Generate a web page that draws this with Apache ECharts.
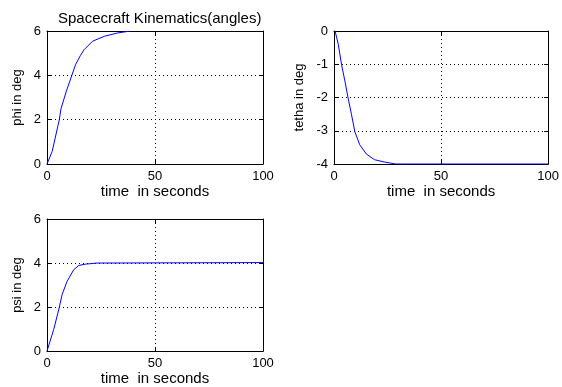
<!DOCTYPE html>
<html>
<head>
<meta charset="utf-8">
<script src="https://cdn.jsdelivr.net/npm/echarts@6/dist/echarts.min.js"></script>
<style>
html,body{margin:0;padding:0;background:#fff;}
#c{width:562px;height:387px;}
</style>
</head>
<body>
<div id="c"></div>
<script>
// ---- data ----
var titleText = 'Spacecraft Kinematics(angles)';
var xName = 'time  in seconds';
var yNames = ['phi in deg', 'tetha in deg', 'psi in deg'];

var phiT = [0, 2.4, 5.7, 6.5, 9, 11.5, 13.3, 15.5, 17.2, 21.1, 26.5, 32.6, 38];
var phiV = [0, 0.57, 2.0, 2.5, 3.3, 4.0, 4.5, 4.9, 5.16, 5.54, 5.76, 5.91, 5.99];

var tethaT = [0.5, 2, 3.5, 5.1, 6.6, 8.2, 9.7, 12, 15.1, 18.9, 23.5, 28.9, 100];
var tethaV = [0, -0.4, -1.0, -1.51, -2.02, -2.52, -3.02, -3.42, -3.70, -3.87, -3.94, -4.0, -4.0];

var psiT = [0, 3.1, 5.6, 7.0, 9.3, 12.4, 14.7, 17.8, 23.2, 100];
var psiV = [0, 0.98, 1.95, 2.57, 3.17, 3.70, 3.89, 3.95, 4.0, 4.02];

var xTicks = {min: 0, max: 100, interval: 50};
var yTicks = [
  {min: 0, max: 6, interval: 2},
  {min: -4, max: 0, interval: 1},
  {min: 0, max: 6, interval: 2}
];

// ---- chart ----
function pairs(t, v) { return t.map(function (x, i) { return [x, v[i]]; }); }

var FONT = "'Liberation Sans', Arial, sans-serif";
var grids = [
  {left: 47, top: 31, width: 216, height: 133},
  {left: 334, top: 31, width: 217, height: 133},
  {left: 47, top: 219, width: 216, height: 133}
];
var yNameGaps = [23, 28, 23];

var splitLine = {show: true, lineStyle: {color: '#000', type: [1, 3], width: 1}};
var xAxes = [], yAxes = [];
grids.forEach(function (g, i) {
  xAxes.push({
    type: 'value', gridIndex: i, min: xTicks.min, max: xTicks.max, interval: xTicks.interval,
    name: xName, nameLocation: 'middle', nameGap: 19,
    nameTextStyle: {color: '#000', fontSize: 15, fontFamily: FONT},
    axisLine: {show: true, onZero: false, lineStyle: {color: '#000', width: 1}},
    axisTick: {show: true, inside: true, length: 4, lineStyle: {color: '#000'}},
    axisLabel: {color: '#000', fontSize: 13, fontFamily: FONT, margin: 6},
    splitLine: splitLine
  });
  xAxes.push({
    type: 'value', gridIndex: i, position: 'top', min: xTicks.min, max: xTicks.max, interval: xTicks.interval,
    axisLine: {show: true, onZero: false, lineStyle: {color: '#000', width: 1}},
    axisTick: {show: true, inside: true, length: 4, lineStyle: {color: '#000'}},
    axisLabel: {show: false}, splitLine: {show: false}
  });
  var yt = yTicks[i];
  yAxes.push({
    type: 'value', gridIndex: i, min: yt.min, max: yt.max, interval: yt.interval,
    name: yNames[i], nameLocation: 'middle', nameGap: yNameGaps[i],
    nameTextStyle: {color: '#000', fontSize: 13, fontFamily: FONT},
    axisLine: {show: true, onZero: false, lineStyle: {color: '#000', width: 1}},
    axisTick: {show: true, inside: true, length: 4, lineStyle: {color: '#000'}},
    axisLabel: {color: '#000', fontSize: 13, fontFamily: FONT, margin: 6},
    splitLine: splitLine
  });
  yAxes.push({
    type: 'value', gridIndex: i, position: 'right', min: yt.min, max: yt.max, interval: yt.interval,
    axisLine: {show: true, onZero: false, lineStyle: {color: '#000', width: 1}},
    axisTick: {show: true, inside: true, length: 4, lineStyle: {color: '#000'}},
    axisLabel: {show: false}, splitLine: {show: false}
  });
});

var seriesData = [pairs(phiT, phiV), pairs(tethaT, tethaV), pairs(psiT, psiV)];
var series = seriesData.map(function (d, i) {
  return {
    type: 'line', xAxisIndex: i * 2, yAxisIndex: i * 2, data: d,
    showSymbol: false, symbol: 'none', smooth: false,
    lineStyle: {color: '#0000ff', width: 1}, clip: true
  };
});

var chart = echarts.init(document.getElementById('c'), null, {renderer: 'canvas'});
chart.setOption({
  backgroundColor: '#fff',
  animation: false,
  title: {text: titleText, left: 53, top: 6,
    textStyle: {color: '#000', fontSize: 15, fontWeight: 'normal', fontFamily: FONT}},
  grid: grids,
  xAxis: xAxes,
  yAxis: yAxes,
  series: series
});
</script>
</body>
</html>
